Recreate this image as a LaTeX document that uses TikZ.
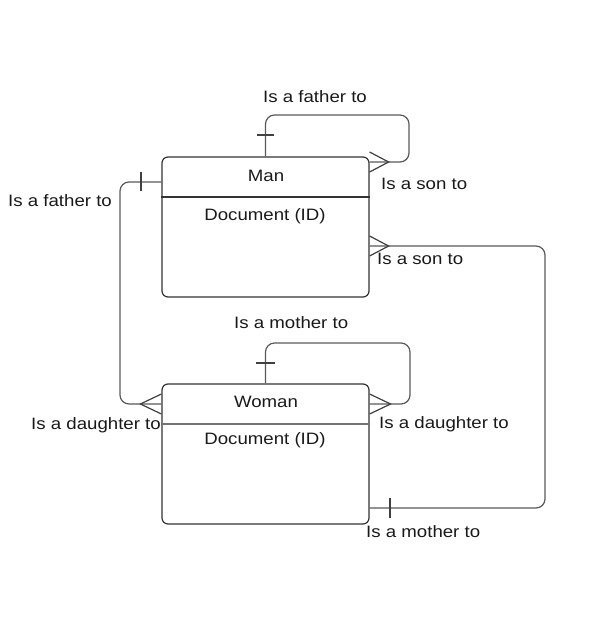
\documentclass[tikz,border=0pt]{standalone}
\usepackage{fontspec}
\setmainfont[FakeStretch=1.13]{Liberation Sans}
\usetikzlibrary{calc}
\begin{document}
\begin{tikzpicture}[x=1pt,y=-1pt,
  entity/.style={draw=black!80,line width=1.2pt,rounded corners=6pt,minimum width=207pt,minimum height=140pt,inner sep=0pt},
  conn/.style={draw=black!65,line width=1.2pt,rounded corners=9pt},
  tick/.style={draw=black!75,line width=1.2pt},
  lbl/.style={anchor=base west,inner sep=0pt,text=black!90,font=\fontsize{16.5}{19}\selectfont},
  ttl/.style={anchor=base,inner sep=0pt,text=black!90,font=\fontsize{16.5}{19}\selectfont}]
\useasboundingbox (0,0) rectangle (595,638);
% entities
\node[entity] (Man) at (265.5,227) {};
\node[entity] (Woman) at (265.5,454) {};
\draw[draw=black!80,line width=1.2pt] (Man.west |- 0,197) -- (Man.east |- 0,197);
\draw[draw=black!55,line width=1.2pt] (Woman.west |- 0,424) -- (Woman.east |- 0,424);
\node[ttl] (manT) at (266,181) {Man};
\node[ttl] (manD) at (265,220) {Document (ID)};
\node[ttl] (womT) at (266,407) {Woman};
\node[ttl] (womD) at (265,444) {Document (ID)};
% connection points
\coordinate (mTop) at (Man.north);
\coordinate (mLoopE) at (Man.east |- 0,162);
\coordinate (mW) at (Man.west |- 0,182);
\coordinate (mE) at (Man.east |- 0,246);
\coordinate (wTop) at (Woman.north);
\coordinate (wLoopE) at (Woman.east |- 0,404);
\coordinate (wW) at (Woman.west |- 0,404);
\coordinate (wE) at (Woman.east |- 0,508);
% Man self loop
\draw[conn] (mTop) |- (409,115) |- (mLoopE);
\draw[tick] (257,135) -- (274,135);
\draw[tick] ($(mLoopE)+(0,-10)$) -- ($(mLoopE)+(19,0)$) -- ($(mLoopE)+(0,10)$);
% Man -> Woman left
\draw[conn] (mW) -| (120,300) |- (wW);
\draw[tick] (141,172) -- (141,191);
\draw[tick] ($(wW)+(0,-10)$) -- ($(wW)+(-21,0)$) -- ($(wW)+(0,10)$);
% Woman self loop
\draw[conn] (wTop) |- (410,343) |- (wLoopE);
\draw[tick] (256,363) -- (275,363);
\draw[tick] ($(wLoopE)+(0,-10)$) -- ($(wLoopE)+(21,0)$) -- ($(wLoopE)+(0,10)$);
% Man -> Woman right
\draw[conn] (mE) -| (545,400) |- (wE);
\draw[tick] ($(mE)+(0,-10)$) -- ($(mE)+(19,0)$) -- ($(mE)+(0,10)$);
\draw[tick] (390,498) -- (390,518);
% labels
\node[lbl] (l1) at (263,102) {Is a father to};
\node[lbl] (l2) at (381,189) {Is a son to};
\node[lbl] (l3) at (8,206) {Is a father to};
\node[lbl] (l4) at (377,264) {Is a son to};
\node[lbl] (l5) at (234,328) {Is a mother to};
\node[lbl] (l6) at (31,429) {Is a daughter to};
\node[lbl] (l7) at (379,428) {Is a daughter to};
\node[lbl] (l8) at (366,537) {Is a mother to};
\end{tikzpicture}
\end{document}
